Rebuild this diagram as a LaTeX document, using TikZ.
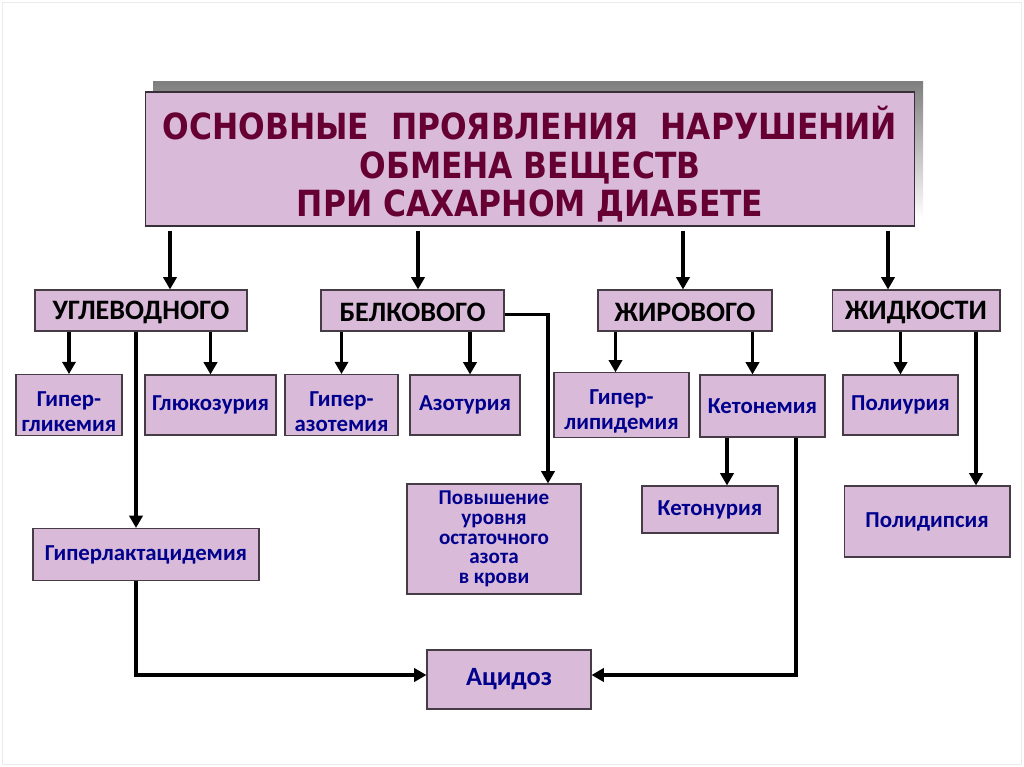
\documentclass[tikz,border=0pt]{standalone}
\usepackage{fontspec}
\setmainfont{Carlito}
\newfontfamily\titlefont[FakeStretch=0.87]{DejaVu Sans}
\usetikzlibrary{arrows.meta,calc}
\definecolor{lilac}{RGB}{217,186,217}
\definecolor{maroon}{RGB}{102,0,51}
\definecolor{navy}{RGB}{0,0,140}
\definecolor{edge}{RGB}{70,60,70}
\definecolor{shade}{RGB}{128,128,128}
\newcommand{\lift}{\rule{0pt}{16pt}}

\begin{document}
\begin{tikzpicture}[x=0.02cm,y=-0.02cm]
\tikzstyle{cell} = [draw=edge, fill=lilac, line width=0.6pt, inner sep=2pt, align=center]
\tikzstyle{group} = [cell, minimum height=0.82cm, text height=13pt, font=\bfseries\fontsize{16}{18}\selectfont]
\tikzstyle{sign} = [cell, text=navy, font=\bfseries\fontsize{13}{14.5}\selectfont]
\tikzstyle{arr} = [line width=2.1pt, -{Triangle[length=7pt,width=7.5pt]}]

\useasboundingbox (0,0) rectangle (1024,767);
\draw[black!8] (2,2) rectangle (1021,764);

% title with its shadow
\fill[shade] (153,82) rectangle (923,218);
\node[cell, draw=edge!80!black, minimum width=15.4cm, minimum height=2.68cm, text=maroon,
  font=\titlefont\bfseries\fontsize{20.5}{22}\selectfont] (title) at (530,159)
  {\rule{0pt}{25pt}ОСНОВНЫЕ\ \ ПРОЯВЛЕНИЯ\ \ НАРУШЕНИЙ\\ОБМЕНА ВЕЩЕСТВ\\ПРИ САХАРНОМ ДИАБЕТЕ};

% kinds of metabolism
\node[group, minimum width=4.24cm] (ugl) at (141,310.5) {УГЛЕВОДНОГО};
\node[group, minimum width=3.66cm] (bel) at (412.5,310.5) {БЕЛКОВОГО};
\node[group, minimum width=3.48cm] (zhir) at (685,310.5) {ЖИРОВОГО};
\node[group, minimum width=3.36cm] (zhid) at (916,310.5) {ЖИДКОСТИ};

% first row of signs
\node[sign, minimum width=2.12cm, minimum height=1.2cm] (hgl) at (69,405) {\lift Гипер-\\гликемия};
\node[sign, minimum width=2.62cm, minimum height=1.2cm] (glu) at (210.5,405) {Глюкозурия};
\node[sign, minimum width=2.26cm, minimum height=1.2cm] (haz) at (341.5,405) {\lift Гипер-\\азотемия};
\node[sign, minimum width=2.2cm, minimum height=1.2cm] (azo) at (465,405) {Азотурия};
\node[sign, minimum width=2.7cm, minimum height=1.2cm] (hlip) at (621.5,405) {\lift Гипер-\\липидемия};
\node[sign, minimum width=2.5cm, minimum height=1.24cm] (ketem) at (762.5,406) {Кетонемия};
\node[sign, minimum width=2.3cm, minimum height=1.2cm] (pol) at (900.5,405) {Полиурия};

% second row of signs
\node[sign, minimum width=4.52cm, minimum height=1.04cm] (hlac) at (146,554.5) {Гиперлактацидемия};
\node[sign, minimum width=3.48cm, minimum height=2.2cm, font=\bfseries\fontsize{12}{11.2}\selectfont] (pov) at (494,539)
  {Повышение\\уровня\\остаточного\\азота\\в крови};
\node[sign, minimum width=2.72cm, minimum height=0.94cm] (keton) at (710,509.5) {Кетонурия};
\node[sign, minimum width=3.32cm, minimum height=1.42cm] (polid) at (927,521.5) {Полидипсия};
\node[sign, minimum width=3.28cm, minimum height=1.18cm, font=\bfseries\fontsize{15}{17}\selectfont] (acid) at (509,679.5) {Ацидоз};

% title to kinds
\foreach \n/\dx in {ugl/29, bel/5.5, zhir/-2, zhid/-28}
  \draw[arr] ($(title.south -| \n.north)+(\dx,4)$) -- ($(\n.north)+(\dx,0)$);

% kinds to signs
\draw[arr] (ugl.south -| hgl.north) -- (hgl.north);
\draw[arr] (ugl.south -| glu.north) -- (glu.north);
\draw[arr] ($(ugl.south -| hlac.north)+(-10,0)$) -- ($(hlac.north)+(-10,0)$);
\draw[arr] (bel.south -| haz.north) -- (haz.north);
\draw[arr] ($(bel.south -| azo.north)+(5,0)$) -- ($(azo.north)+(5,0)$);
\draw[arr] ($(bel.east)+(0,4)$) -| ($(pov.north)+(54,0)$);
\draw[arr] ($(zhir.south -| hlip.north)+(-6,0)$) -- ($(hlip.north)+(-6,0)$);
\draw[arr] ($(zhir.south -| ketem.north)+(-10,0)$) -- ($(ketem.north)+(-10,0)$);
\draw[arr] (zhid.south -| pol.north) -- (pol.north);
\draw[arr] ($(zhid.south -| polid.north)+(49,0)$) -- ($(polid.north)+(49,0)$);
\draw[arr] ($(ketem.south -| keton.north)+(17,0)$) -- ($(keton.north)+(17,0)$);

% into acidosis
\draw[arr] ($(hlac.south)+(-10,0)$) |- ($(acid.west)+(0,-4.5)$);
\draw[arr] ($(ketem.south)+(33.5,0)$) |- ($(acid.east)+(0,-4.5)$);

\end{tikzpicture}
\end{document}
